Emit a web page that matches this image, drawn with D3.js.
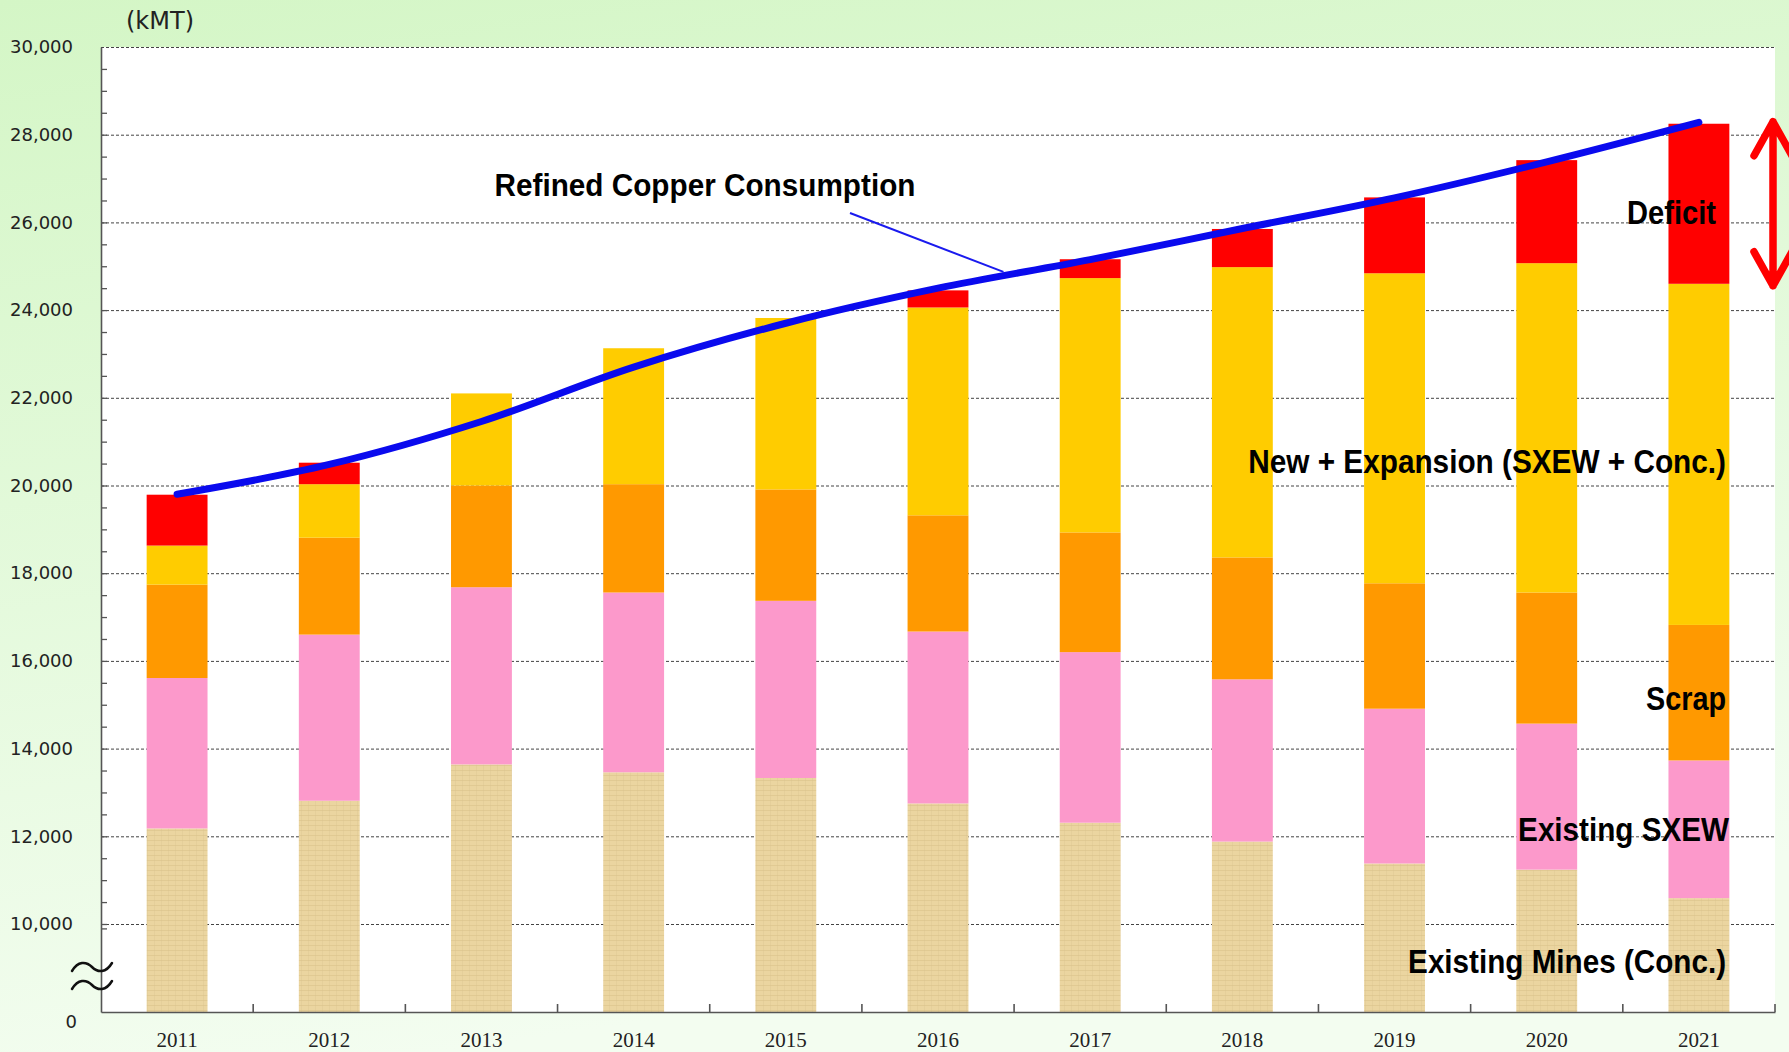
<!doctype html>
<html>
<head>
<script src="https://cdnjs.cloudflare.com/ajax/libs/d3/7.8.5/d3.min.js"></script>
<style>
  body { margin: 0; }
  svg { display: block; }
  .lbl { font-family: "Liberation Sans Narrow", "Arial Narrow", "Liberation Sans", Arial, sans-serif; font-weight: bold; fill: #000; }
</style>
</head>
<body>
<svg id="chart" width="1789" height="1052"></svg>
<script>
// data (kMT)
const years = ["2011","2012","2013","2014","2015","2016","2017","2018","2019","2020","2021"];
const existingMines = [12180, 12810, 13640, 13460, 13330, 12750, 12310, 11880, 11380, 11240, 10590];
const existingSxew  = [3430, 3790, 4040, 4100, 4040, 3920, 3890, 3700, 3530, 3330, 3140];
const scrap         = [2130, 2210, 2320, 2470, 2540, 2650, 2730, 2780, 2860, 2990, 3090];
const newExpansion  = [890, 1220, 2100, 3100, 3910, 4740, 5800, 6620, 7070, 7510, 7780];
const deficit       = [1160, 490, 0, 0, 0, 390, 430, 870, 1730, 2350, 3650];
const consumption   = [19800, 20480, 21460, 22700, 23700, 24500, 25150, 25860, 26560, 27380, 28280];
const yTickValues   = [0, 10000, 12000, 14000, 16000, 18000, 20000, 22000, 24000, 26000, 28000, 30000];

const keys = ["mines", "sxew", "scrap", "newexp", "deficit"];
const colors = { mines: "url(#papyrus)", sxew: "#fc99cb", scrap: "#ff9900", newexp: "#ffcc00", deficit: "#ff0000" };

const W = 1789, H = 1052;
const plotL = 101, plotR = 1775, plotT = 47, plotB = 1012;

const svg = d3.select("#chart");
const defs = svg.append("defs");

const bg = defs.append("linearGradient").attr("id", "bg").attr("x1", 0).attr("y1", 0).attr("x2", 0.25).attr("y2", 1);
bg.append("stop").attr("offset", "0%").attr("stop-color", "#d4f6c6");
bg.append("stop").attr("offset", "100%").attr("stop-color", "#f3fdf0");

const pat = defs.append("pattern").attr("id", "papyrus").attr("patternUnits", "userSpaceOnUse")
  .attr("width", 7).attr("height", 5);
pat.append("rect").attr("width", 7).attr("height", 5).attr("fill", "#ebd5a0");
pat.append("rect").attr("width", 7).attr("height", 1).attr("fill", "#d6bc84").attr("opacity", 0.45);
pat.append("rect").attr("width", 1).attr("height", 5).attr("fill", "#dac28e").attr("opacity", 0.35);

svg.append("rect").attr("width", W).attr("height", H).attr("fill", "url(#bg)");
svg.append("rect").attr("x", plotL).attr("y", plotT).attr("width", plotR - plotL).attr("height", plotB - plotT).attr("fill", "#fff");

const x = d3.scaleBand().domain(years).range([plotL, plotR]).paddingInner(0.6).paddingOuter(0.3);
const y = d3.scaleLinear().domain([0, 10000, 30000]).range([plotB, 924, plotT]);

// grid
const grid = svg.append("g").attr("transform", `translate(${plotL},0)`)
  .call(d3.axisRight(y).tickValues(d3.range(10000, 30001, 2000)).tickSize(plotR - plotL).tickFormat(""));
grid.select(".domain").remove();
grid.selectAll("line").attr("stroke", "#444").attr("stroke-width", 1).attr("stroke-dasharray", "3,2");

// minor ticks
const minor = svg.append("g").attr("transform", `translate(${plotL},0)`)
  .call(d3.axisRight(y).tickValues(d3.range(9500, 30000, 500)).tickSize(6).tickFormat(""));
minor.select(".domain").remove();
minor.selectAll("line").attr("stroke", "#555").attr("stroke-width", 1.3);

// stacked bars
const table = years.map((yr, i) => ({
  year: yr, mines: existingMines[i], sxew: existingSxew[i], scrap: scrap[i], newexp: newExpansion[i], deficit: deficit[i]
}));
const series = d3.stack().keys(keys)(table);

svg.append("g").selectAll("g").data(series).enter().append("g")
  .attr("fill", d => colors[d.key])
  .selectAll("rect").data(d => d).enter().append("rect")
    .attr("x", d => x(d.data.year))
    .attr("width", x.bandwidth())
    .attr("y", d => y(d[1]))
    .attr("height", d => y(d[0]) - y(d[1]));

// y axis
const yAxis = svg.append("g").attr("transform", `translate(${plotL},0)`)
  .call(d3.axisLeft(y).tickValues(yTickValues).tickSize(0).tickPadding(28).tickFormat(d3.format(",")));
yAxis.select(".domain").attr("stroke", "#555").attr("stroke-width", 1.6);
yAxis.selectAll("text").style("font-family", "'DejaVu Sans', Verdana, sans-serif").style("font-size", "18px").attr("fill", "#222");
yAxis.selectAll(".tick").filter(d => d === 0).select("text").attr("x", -24).attr("dy", "0.85em");

// x axis
const xAxis = svg.append("g").attr("transform", `translate(0,${plotB})`)
  .call(d3.axisBottom(x).tickSize(0).tickPadding(20));
xAxis.select(".domain").attr("stroke", "#555").attr("stroke-width", 1.6);
xAxis.selectAll("text").style("font-family", "'Liberation Serif', 'Times New Roman', serif").style("font-size", "21px").attr("fill", "#222");
svg.append("g").selectAll("line").data(years).enter().append("line")
  .attr("x1", d => x(d) + x.bandwidth() / 2 + x.step() / 2)
  .attr("x2", d => x(d) + x.bandwidth() / 2 + x.step() / 2)
  .attr("y1", plotB).attr("y2", plotB - 8)
  .attr("stroke", "#555").attr("stroke-width", 1.6);

// axis break marks
const brk = svg.append("g").attr("fill", "none").attr("stroke", "#111").attr("stroke-width", 2.5).attr("stroke-linecap", "round");
[967, 985].forEach(cy => {
  brk.append("path").attr("d",
    `M72,${cy + 4} C78,${cy - 6} 86,${cy - 6} 92,${cy} S106,${cy + 6} 112,${cy - 4}`);
});

// consumption line
const cx = d => x(d) + x.bandwidth() / 2;
svg.append("path").datum(consumption)
  .attr("fill", "none").attr("stroke", "#0a0aee").attr("stroke-width", 7).attr("stroke-linecap", "round")
  .attr("d", d3.line().x((d, i) => cx(years[i])).y(d => y(d)).curve(d3.curveCatmullRom.alpha(0.5)));

// narrow bold text, squeezed to the width it has in the original
function squeezed(g, str, px, py, width, size, anchor) {
  const tx = g.append("text").attr("class", "lbl").style("font-size", size + "px")
    .attr("text-anchor", anchor).text(str);
  const natural = tx.node().getComputedTextLength();
  tx.attr("transform", `translate(${px},${py}) scale(${width / natural},1)`);
  return tx;
}

// annotation: Refined Copper Consumption
const t = 0.43;
const px = cx("2016") + t * x.step();
const pv = consumption[5] + t * (consumption[6] - consumption[5]);
svg.append("line").attr("x1", 850).attr("y1", 213).attr("x2", px).attr("y2", y(pv) - 4)
  .attr("stroke", "#1a1aee").attr("stroke-width", 2);
squeezed(svg, "Refined Copper Consumption", 705, 196, 421, 31, "middle");

// red double arrow over 2021 deficit
const ay1 = y(d3.sum([existingMines[10], existingSxew[10], scrap[10], newExpansion[10], deficit[10]])) - 2;
const ay2 = y(d3.sum([existingMines[10], existingSxew[10], scrap[10], newExpansion[10]])) + 2;
const ax = 1773;
svg.append("path")
  .attr("d", `M${ax},${ay1} L${ax},${ay2} M${ax - 19},${ay1 + 34} L${ax},${ay1} L${ax + 19},${ay1 + 34} M${ax - 19},${ay2 - 34} L${ax},${ay2} L${ax + 19},${ay2 - 34}`)
  .attr("fill", "none").attr("stroke", "#ff0000").attr("stroke-width", 7.5)
  .attr("stroke-linecap", "round").attr("stroke-linejoin", "round");

// series labels
const labels = [
  { text: "Deficit", x: 1716, y: 224, w: 89 },
  { text: "New + Expansion (SXEW + Conc.)", x: 1726, y: 473, w: 478 },
  { text: "Scrap", x: 1726, y: 710, w: 80 },
  { text: "Existing SXEW", x: 1729, y: 841, w: 211 },
  { text: "Existing Mines (Conc.)", x: 1726, y: 973, w: 318 }
];
const lblG = svg.append("g");
labels.forEach(d => squeezed(lblG, d.text, d.x, d.y, d.w, 34, "end"));

// unit label
svg.append("text").attr("x", 160).attr("y", 29).attr("text-anchor", "middle")
  .style("font-family", "'DejaVu Sans', Verdana, sans-serif").style("font-size", "24px").attr("fill", "#222")
  .text("(kMT)");
</script>
</body>
</html>
